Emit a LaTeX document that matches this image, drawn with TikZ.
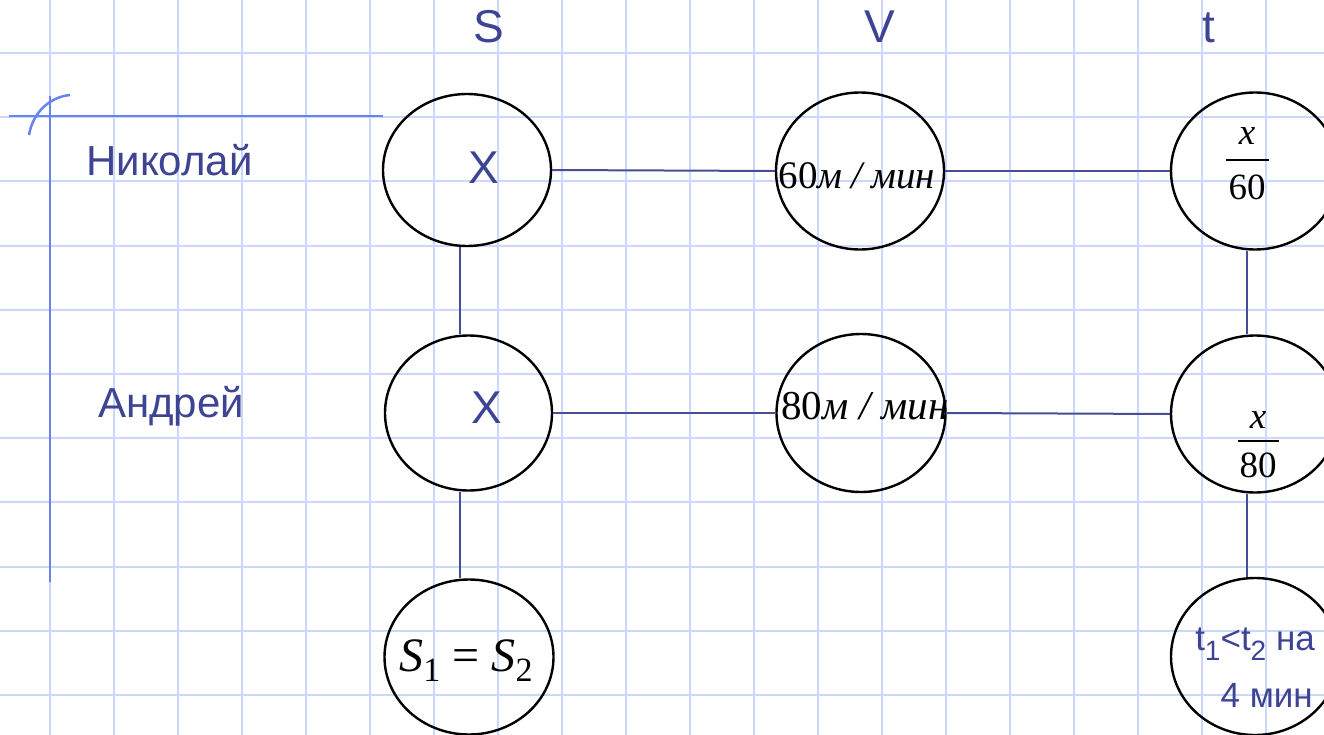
\documentclass[tikz,border=0pt]{standalone}
\usepackage{fontspec}
\setmainfont{Liberation Serif}
\newfontfamily\sansf{Liberation Sans}
\usetikzlibrary{shapes.geometric}
\definecolor{gridc}{RGB}{204,216,250}
\definecolor{txt}{RGB}{62,68,148}
\definecolor{conn}{RGB}{72,78,150}
\definecolor{brk}{RGB}{104,130,240}
\begin{document}
\begin{tikzpicture}[x=1pt,y=-1pt,
  oval/.style={draw=black,line width=2.4pt,ellipse,inner sep=0pt},
  link/.style={draw=conn,line width=2pt},
  bracketline/.style={draw=brk,line width=2.5pt},
  gridline/.style={draw=gridc,line width=2pt},
  headtxt/.style={text=txt,inner sep=0pt,anchor=base,font=\sansf\fontsize{46}{46}\selectfont},
  nametxt/.style={text=txt,inner sep=0pt,anchor=base west,font=\sansf\fontsize{42}{42}\selectfont},
  seriftxt/.style={text=black,inner sep=0pt,anchor=base},
  smalltxt/.style={text=txt,inner sep=0pt,anchor=base east,font=\sansf\fontsize{35}{35}\selectfont}
]
\useasboundingbox (0,0) rectangle (1324,735);
\clip (0,0) rectangle (1324,735);
\fill[white] (0,0) rectangle (1324,735);
% grid
\foreach \i in {-1,...,20} {\draw[gridline] ({50+64*\i},0) -- ({50+64*\i},735);}
\foreach \j in {0,...,10} {\draw[gridline] (0,{53+64.2*\j}) -- (1324,{53+64.2*\j});}
% bracket
\draw[bracketline] (9,116) -- (383,116);
\draw[bracketline] (50,96) -- (50,582);
\draw[bracketline] (29,135) .. controls (33,112) and (50,97) .. (70,95);
% headers
\node[headtxt] (hS) at (489,43) {S};
\node[headtxt] (hV) at (880,43) {V};
\node[headtxt] (ht) at (1209,43) {t};
% names
\node[nametxt] (nN) at (86,176) {Николай};
\node[nametxt] (nA) at (98,417) {Андрей};
% ellipses
\node[oval,minimum width=168pt,minimum height=152pt] (sN) at (467,170) {};
\node[oval,minimum width=168pt,minimum height=157pt] (vN) at (860,171) {};
\node[oval,minimum width=168pt,minimum height=157pt] (tN) at (1255,171) {};
\node[oval,minimum width=167pt,minimum height=155pt] (sA) at (468.5,413) {};
\node[oval,minimum width=169pt,minimum height=158pt] (vA) at (861,413) {};
\node[oval,minimum width=168pt,minimum height=157pt] (tA) at (1255,414) {};
\node[oval,minimum width=169pt,minimum height=155pt] (sB) at (469,657) {};
\node[oval,minimum width=168pt,minimum height=157pt] (tB) at (1255,656.5) {};
% connectors
\coordinate (cs) at (460,0);
\coordinate (ct) at (1247,0);
\draw[link] (sN.east) -- (vN.west);
\draw[link] (vN.east) -- (tN.west);
\draw[link] (sA.east) -- (vA.west);
\draw[link] (vA.east) -- (tA.west);
\draw[link] (sN.south -| cs) -- (sA.north -| cs);
\draw[link] (sA.south -| cs) -- (sB.north -| cs);
\draw[link] (tN.south -| ct) -- (tA.north -| ct);
\draw[link] (tA.south -| ct) -- (tB.north -| ct);
% contents
\node[headtxt] (xN) at (484,184) {X};
\node[headtxt] (xA) at (487,423) {X};
\node[seriftxt,font=\fontsize{39}{39}\selectfont] (vNt) at (857,189) {60{\itshape м}\hspace{9pt}{\itshape /}\hspace{9pt}{\itshape мин}};
\node[seriftxt,font=\fontsize{41}{41}\selectfont] (vAt) at (865,419) {80{\itshape м}\hspace{11pt}{\itshape /}\hspace{11pt}{\itshape мин}};
\node[seriftxt,font=\fontsize{37}{37}\selectfont\itshape] (f1n) at (1247,145) {x};
\node[inner sep=0pt] (f1b) at (1247.5,160) {\rule{43pt}{1.8pt}};
\node[seriftxt,font=\fontsize{37}{37}\selectfont] (f1d) at (1247,200) {60};
\node[seriftxt,font=\fontsize{37}{37}\selectfont\itshape] (f2n) at (1258,428) {x};
\node[inner sep=0pt] (f2b) at (1258.5,441) {\rule{41pt}{1.8pt}};
\node[seriftxt,font=\fontsize{37}{37}\selectfont] (f2d) at (1258,477) {80};
\node[seriftxt,font=\fontsize{48}{48}\selectfont] (seq) at (466,671) {{\itshape S}\raisebox{-10pt}{\fontsize{34}{34}\selectfont 1}\hspace{12pt}=\hspace{12pt}{\itshape S}\raisebox{-10pt}{\fontsize{34}{34}\selectfont 2}};
\node[smalltxt] (tl1) at (1315,650) {t\raisebox{-10pt}{\fontsize{28}{28}\selectfont 1}<t\raisebox{-10pt}{\fontsize{28}{28}\selectfont 2} на};
\node[smalltxt] (tl2) at (1313,707) {4 мин};
\end{tikzpicture}
\end{document}
